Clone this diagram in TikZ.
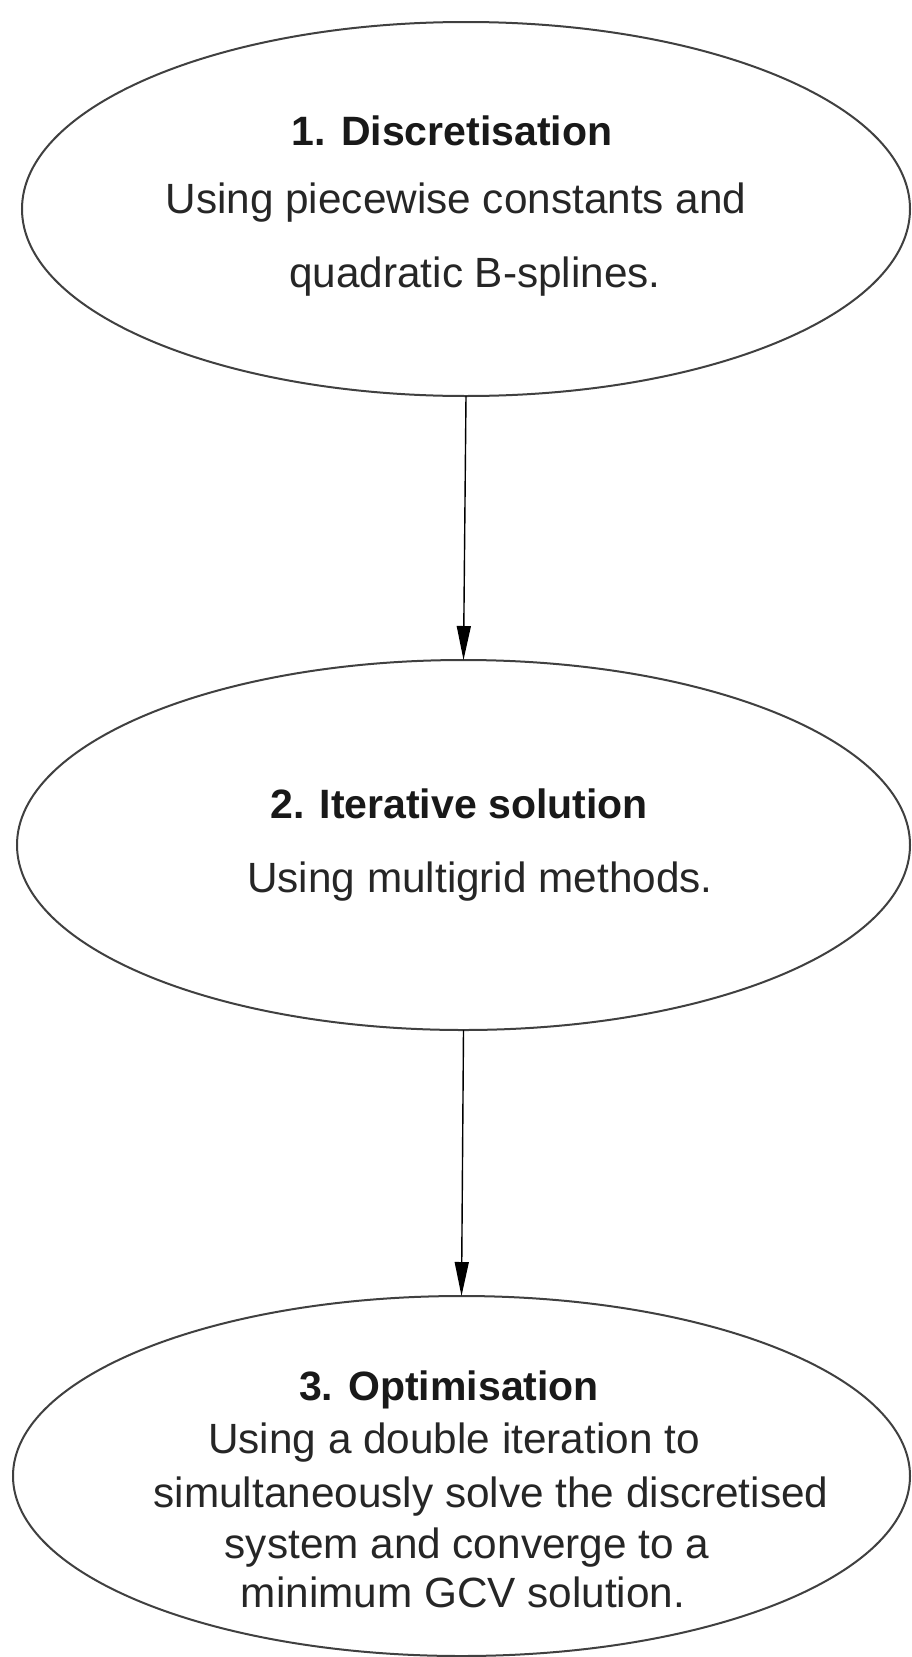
\documentclass[tikz,border=0pt]{standalone}
\usepackage{fontspec}
\setmainfont{Liberation Sans}
\usetikzlibrary{shapes.geometric,arrows.meta}
\begin{document}
\begin{tikzpicture}[x=1pt,y=-1pt,
  stage/.style={draw=black!75,line width=2pt,ellipse,inner sep=0pt,outer sep=0pt},
  ttl/.style={anchor=base,inner sep=0pt,font=\fontsize{41}{49}\selectfont\bfseries,text=black!90},
  body/.style={anchor=base,inner sep=0pt,font=\fontsize{42.3}{50}\selectfont,text=black!85},
  flow/.style={draw=black,line width=1.4pt,-{Triangle[length=34pt,width=14pt]}}]
\useasboundingbox[fill=white] (0,0) rectangle (912,1657);
\node[stage,minimum width=888pt,minimum height=374pt] (s1) at (466,209) {};
\node[stage,minimum width=893pt,minimum height=370pt] (s2) at (463.5,845) {};
\node[stage,minimum width=897pt,minimum height=360pt] (s3) at (461.5,1476) {};
\node[ttl] (t1) at (452,145) {1. Discretisation};
\node[body] (b1a) at (456,213) {Using piecewise constants and};
\node[body] (b1b) at (475,287) {quadratic B-splines.};
\node[ttl] (t2) at (459,818) {2. Iterative solution};
\node[body] (b2a) at (480,892) {Using multigrid methods.};
\node[ttl] (t3) at (449,1400) {3. Optimisation};
\node[body] (b3a) at (454,1453) {Using a double iteration to};
\node[body] (b3b) at (491,1507) {simultaneously solve the discretised};
\node[body] (b3c) at (467,1558) {system and converge to a};
\node[body] (b3d) at (463,1607) {minimum GCV solution.};
\draw[flow] (s1.south) -- (s2.north);
\draw[flow] (s2.south) -- (s3.north);
\end{tikzpicture}
\end{document}
